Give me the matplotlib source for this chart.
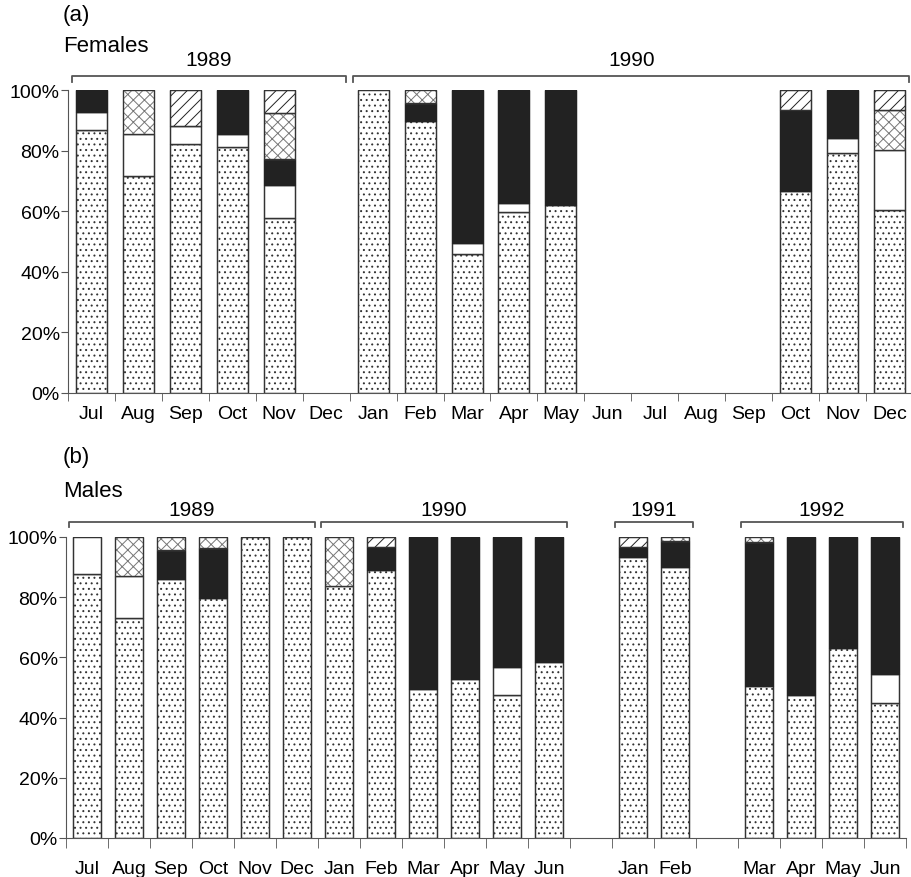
import numpy as np
import matplotlib.pyplot as plt
import matplotlib.transforms as mtransforms

plt.rcParams['font.family'] = ['Liberation Sans', 'DejaVu Sans']
plt.rcParams['hatch.linewidth'] = 0.7

# (a) Females: Jul 1989 .. Dec 1990
f_months = ['Jul', 'Aug', 'Sep', 'Oct', 'Nov', 'Dec',
            'Jan', 'Feb', 'Mar', 'Apr', 'May', 'Jun', 'Jul', 'Aug', 'Sep', 'Oct', 'Nov', 'Dec']
f_dot   = [86.8, 71.5, 82.3, 81.3, 57.9, 0, 100, 89.9, 46.0, 59.6, 62.0, 0, 0, 0, 0, 66.6, 79.2, 60.3]
f_white = [6.1, 14.1, 5.9, 4.1, 10.9, 0, 0, 0, 3.5, 3.0, 0, 0, 0, 0, 0, 0, 4.8, 19.9]
f_black = [7.1, 0, 0, 14.6, 8.3, 0, 0, 5.9, 50.5, 37.4, 38.0, 0, 0, 0, 0, 26.8, 16.0, 0]
f_cross = [0, 14.4, 0, 0, 15.4, 0, 0, 4.2, 0, 0, 0, 0, 0, 0, 0, 0, 0, 13.3]
f_diag  = [0, 0, 11.8, 0, 7.5, 0, 0, 0, 0, 0, 0, 0, 0, 0, 0, 6.6, 0, 6.5]
f_years = [('1989', 0, 5), ('1990', 6, 17)]

# (b) Males: Jul 1989 .. Jun 1990, Jan-Feb 1991, Mar-Jun 1992 ('' = empty slot)
m_months = ['Jul', 'Aug', 'Sep', 'Oct', 'Nov', 'Dec', 'Jan', 'Feb', 'Mar', 'Apr', 'May', 'Jun',
            '', 'Jan', 'Feb', '', 'Mar', 'Apr', 'May', 'Jun']
m_dot   = [87.6, 73.2, 86.0, 79.6, 100, 100, 83.6, 88.9, 49.4, 52.8, 47.5, 58.5,
           0, 93.4, 90.0, 0, 50.6, 47.5, 63.1, 45.0]
m_white = [12.4, 13.9, 0, 0, 0, 0, 0, 0, 0, 0, 9.2, 0, 0, 0, 0, 0, 0, 0, 0, 9.5]
m_black = [0, 0, 9.8, 16.6, 0, 0, 0, 7.9, 50.6, 47.2, 43.3, 41.5,
           0, 3.4, 8.7, 0, 47.9, 52.5, 36.9, 45.5]
m_cross = [0, 12.9, 4.2, 3.8, 0, 0, 16.4, 0, 0, 0, 0, 0, 0, 0, 1.3, 0, 1.5, 0, 0, 0]
m_diag  = [0, 0, 0, 0, 0, 0, 0, 3.2, 0, 0, 0, 0, 0, 3.2, 0, 0, 0, 0, 0, 0]
m_years = [('1989', 0, 5), ('1990', 6, 11), ('1991', 13, 14), ('1992', 16, 19)]

styles = [dict(color='white', hatch='...', edgecolor='#333333'),
          dict(color='white', edgecolor='#333333'),
          dict(color='#222222', edgecolor='#222222'),
          dict(color='white', hatch='xxx', edgecolor='#777777'),
          dict(color='white', hatch='///', edgecolor='#222222')]


def draw(ax, months, series, years, ytxt, yline, pad, tlen):
    x = np.arange(len(months))
    bottom = np.zeros(len(months))
    for vals, st in zip(series, styles):
        vals = np.array(vals, dtype=float)
        m = vals > 0  # skip empty segments, no flat lines
        ax.bar(x[m], vals[m], 0.66, bottom=bottom[m], linewidth=0.9, **st)
        # dark outline for every segment
        ax.bar(x[m], vals[m], 0.66, bottom=bottom[m], fill=False, linewidth=0.9,
               edgecolor='#333333' if st['color'] == 'white' else '#222222')
        bottom += vals
    ax.set_xlim(-0.5, len(months) - 0.5)
    ax.set_ylim(0, 100)
    ax.set_yticks(range(0, 101, 20))
    ax.set_yticklabels([f'{v}%' for v in range(0, 101, 20)], fontsize=14)
    ax.set_xticks(x)
    ax.set_xticklabels(months, fontsize=14)
    ax.set_xticks(np.arange(len(months) + 1) - 0.5, minor=True)
    ax.tick_params(axis='x', which='major', length=0, pad=pad)
    ax.tick_params(axis='x', which='minor', length=tlen, direction='out', color='#555555')
    ax.tick_params(axis='y', length=5, color='#555555', pad=1)
    for s in ['top', 'right']:
        ax.spines[s].set_visible(False)
    ax.spines['left'].set_color('#555555')
    ax.spines['bottom'].set_color('#555555')
    trans = mtransforms.blended_transform_factory(ax.transData, ax.transAxes)
    for name, a, b in years:
        x0, x1 = a - 0.42, b + 0.42
        ax.plot([x0, x0, x1, x1], [yline - 0.018, yline, yline, yline - 0.018],
                color='#555555', lw=1.3, transform=trans, clip_on=False)
        ax.text((x0 + x1) / 2, ytxt, name, transform=trans, ha='center', va='center', fontsize=15)


fig = plt.figure(figsize=(9.12, 8.78), dpi=100)
ax1 = fig.add_axes([68 / 912, 1 - 394 / 878, (913 - 68) / 912, 303 / 878])
ax2 = fig.add_axes([66 / 912, 1 - 839 / 878, (906 - 66) / 912, 301 / 878])

draw(ax1, f_months, [f_dot, f_white, f_black, f_cross, f_diag], f_years, 1.10, 1.046, 9, 6)
draw(ax2, m_months, [m_dot, m_white, m_black, m_cross, m_diag], m_years, 1.093, 1.05, 16, 7)

fig.text(63 / 912, 1 - 16 / 878, '(a)', fontsize=16, va='center', ha='left')
fig.text(63 / 912, 1 - 46 / 878, 'Females', fontsize=16, va='center', ha='left')
fig.text(63 / 912, 1 - 458 / 878, '(b)', fontsize=16, va='center', ha='left')
fig.text(63 / 912, 1 - 492 / 878, 'Males', fontsize=16, va='center', ha='left')

fig.savefig('out.png', dpi=100)
